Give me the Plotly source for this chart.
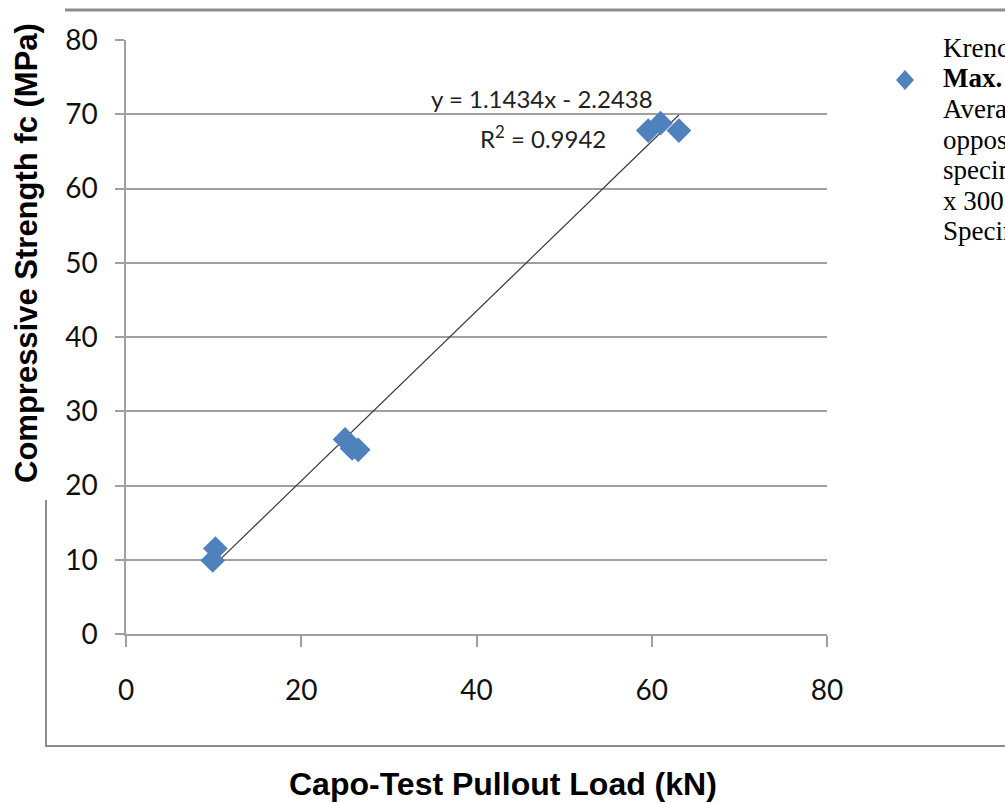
import plotly.graph_objects as go

# Data
pullout_kn = [9.9, 10.2, 25.0, 25.8, 26.5, 59.6, 61.0, 63.1]
strength_mpa = [9.9, 11.5, 26.2, 25.0, 24.8, 67.8, 68.8, 67.8]
slope = 1.1434
intercept = -2.2438
x_ticks = [0, 20, 40, 60, 80]
y_ticks = [0, 10, 20, 30, 40, 50, 60, 70, 80]
legend_lines = ["Krenchel's", "<b>Max.</b>", "Average of two", "opposite", "specimens 150", "x 300 mm", "Specimens"]

W, H = 1005, 803
L, R, T, B = 126, 827, 40, 634


def px(x):
    return (x - L) / (R - L)


def py(y):
    return (B - y) / (B - T)


fit_x = [min(pullout_kn), max(pullout_kn)]
fit_y = [slope * v + intercept for v in fit_x]

num_font = "Lato, Carlito, sans-serif"
marker_color = "#4F81BD"

fig = go.Figure()
fig.add_trace(go.Scatter(
    x=fit_x, y=fit_y, mode="lines",
    line=dict(color="#3a3a3a", width=1.2), showlegend=False, hoverinfo="skip"))
fig.add_trace(go.Scatter(
    x=pullout_kn, y=strength_mpa, mode="markers",
    marker=dict(symbol="diamond", size=19, color=marker_color, line=dict(width=0)),
    showlegend=False))

fig.update_layout(
    width=W, height=H, autosize=False,
    margin=dict(l=L, r=W - R, t=T, b=H - B),
    paper_bgcolor="white", plot_bgcolor="white",
    xaxis=dict(range=[0, 80], tickvals=x_ticks, showgrid=False, zeroline=False,
               showline=True, linecolor="#A0A0A0", linewidth=1.5,
               ticks="outside", ticklen=11, tickcolor="#A0A0A0", tickwidth=1.5,
               tickfont=dict(family=num_font, size=28, color="#111"),
               ticklabelstandoff=20),
    yaxis=dict(range=[0, 80], tickvals=y_ticks, showgrid=True, gridcolor="#A0A0A0", gridwidth=1.5,
               zeroline=False, showline=True, linecolor="#A0A0A0", linewidth=1.5,
               ticks="outside", ticklen=9, tickcolor="#A0A0A0", tickwidth=1.5,
               tickfont=dict(family=num_font, size=28, color="#111"),
               ticklabelstandoff=12),
)

# legend diamond (paper coordinates)
cx, cy, hw, hh = px(905), py(80), 9 / (R - L), 10 / (B - T)
diamond = f"M{cx},{cy + hh} L{cx + hw},{cy} L{cx},{cy - hh} L{cx - hw},{cy} Z"

shapes = [
    dict(type="line", xref="paper", yref="paper", x0=px(65), x1=px(1010), y0=py(10), y1=py(10),
         line=dict(color="#8c8c8c", width=3)),
    dict(type="line", xref="paper", yref="paper", x0=px(46), x1=px(46), y0=py(500), y1=py(746),
         line=dict(color="#8c8c8c", width=2)),
    dict(type="line", xref="paper", yref="paper", x0=px(45), x1=px(1010), y0=py(746), y1=py(746),
         line=dict(color="#8c8c8c", width=2)),
    dict(type="path", xref="paper", yref="paper", path=diamond,
         fillcolor=marker_color, line=dict(width=0)),
]
fig.update_layout(shapes=shapes)

ann = [
    dict(text="<b>Compressive Strength fc (MPa)</b>", x=px(26), y=py(253), textangle=-90,
         font=dict(family="Liberation Sans, Arial, sans-serif", size=31, color="black")),
    dict(text="<b>Capo-Test Pullout Load (kN)</b>", x=px(503), y=py(784),
         font=dict(family="Liberation Sans, Arial, sans-serif", size=32, color="black")),
    dict(text="y = 1.1434x - 2.2438", x=px(542), y=py(98),
         font=dict(family=num_font, size=24, color="#222")),
    dict(text="R<sup>2</sup> = 0.9942", x=px(543), y=py(137),
         font=dict(family=num_font, size=24, color="#222")),
]
for i, line in enumerate(legend_lines):
    ann.append(dict(text=line, x=px(941), y=py(48 + i * 30.5), xanchor="left",
                    font=dict(family="Liberation Serif, Times New Roman, serif", size=27, color="black")))
for a in ann:
    a.setdefault("xanchor", "center")
    a.update(xref="paper", yref="paper", yanchor="middle", showarrow=False)
fig.update_layout(annotations=ann)

fig.write_html("out.html", config={"displayModeBar": False},
               post_script="document.body.style.margin='0';document.body.style.overflow='hidden';")
